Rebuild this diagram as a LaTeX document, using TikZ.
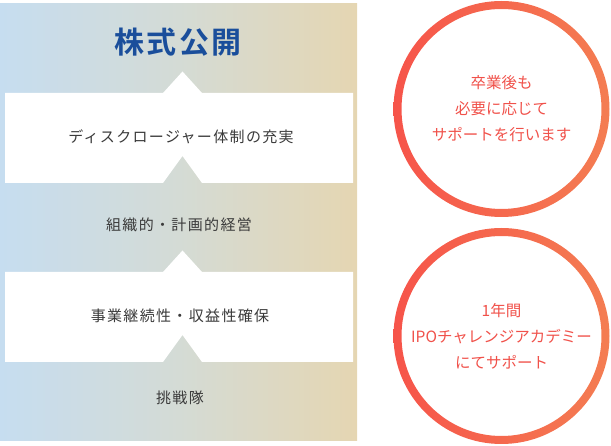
\documentclass[tikz,border=0pt]{standalone}
\usepackage{fontspec}
\newfontfamily\jp[LetterSpace=9]{Noto Sans CJK JP}
\newfontfamily\jpr{Noto Sans CJK JP}
\newfontfamily\jpt[LetterSpace=8]{Noto Sans CJK JP Bold}
\definecolor{panelL}{HTML}{C6DDF0}
\definecolor{panelM}{HTML}{D4DBD5}
\definecolor{panelR}{HTML}{E5D6B2}
\definecolor{titleblue}{HTML}{1A4E9B}
\definecolor{txtgrey}{HTML}{3A3A3A}
\definecolor{ringL}{HTML}{F6544A}
\definecolor{ringR}{HTML}{F47D52}
\definecolor{ringtxt}{HTML}{F0514A}
\begin{document}
\begin{tikzpicture}[x=1pt,y=-1pt,
  steptext/.style={font=\jp\fontsize{15}{18}\selectfont, text=txtgrey, inner sep=0pt},
  ringtext/.style={font=\jpr\fontsize{15.5}{26}\selectfont, text=ringtxt, align=center, inner sep=0pt},
  whitebox/.style={fill=white, draw=none}]
\useasboundingbox (0,0) rectangle (611,446);
% gradient panel
\shade[left color=panelL, right color=panelR, middle color=panelM] (0,4) rectangle (357,441);
% boxes with notches
\path[whitebox] (5,93) -- (163,93) -- (182.5,71.5) -- (202,93) -- (353,93) -- (353,183) -- (202,183) -- (182.5,156) -- (163,183) -- (5,183) -- cycle;
\path[whitebox] (5,272) -- (163,272) -- (182.5,250.5) -- (202,272) -- (353,272) -- (353,362) -- (202,362) -- (182.5,335) -- (163,362) -- (5,362) -- cycle;
% texts
\node[font=\jpt\fontsize{30}{34}\selectfont, text=titleblue, inner sep=0pt] (title) at (178,42) {株式公開};
\node[steptext] (s1) at (181,137) {ディスクロージャー体制の充実};
\node[steptext] (s2) at (179,225) {組織的・計画的経営};
\node[steptext] (s3) at (180,316) {事業継続性・収益性確保};
\node[steptext] (s4) at (180,398) {挑戦隊};
% rings
\shade[even odd rule, left color=ringL, right color=ringR] (501.5,109) circle (108) (501.5,109) circle (100);
\shade[even odd rule, left color=ringL, right color=ringR] (501.5,336) circle (108) (501.5,336) circle (100);
\coordinate (c1) at (501.5,109);
\coordinate (c2) at (501.5,336);
\node[ringtext] (r1) at (c1) {卒業後も\\必要に応じて\\サポートを行います};
\node[ringtext] (r2) at (c2) {1年間\\IPOチャレンジアカデミー\\にてサポート};
\end{tikzpicture}
\end{document}
